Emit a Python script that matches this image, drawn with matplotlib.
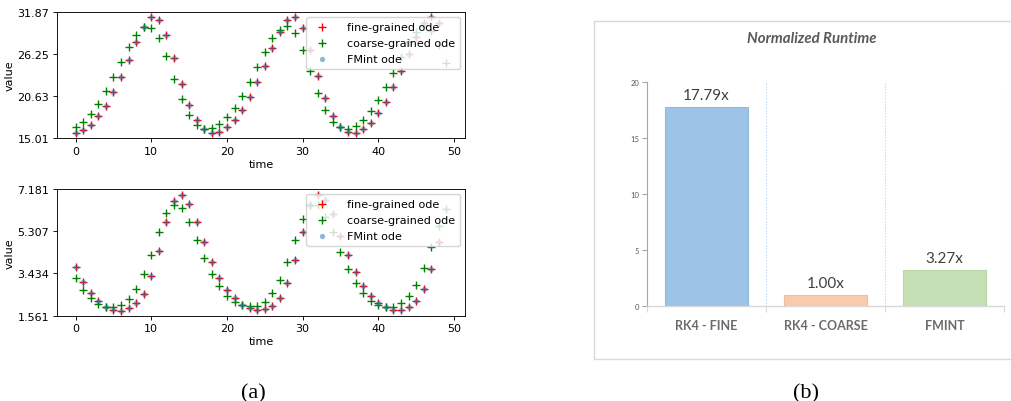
import numpy as np
import matplotlib
matplotlib.use("Agg")
import matplotlib.pyplot as plt
from matplotlib.patches import Rectangle

# ---------------- data ----------------
t_fine = list(range(49))
t_coarse = list(range(50))

top_fine = [15.72, 16.07, 16.78, 17.94, 19.36, 21.13, 23.22, 25.48, 27.79, 29.79,
            31.12, 30.81, 28.81, 25.66, 22.24, 19.45, 17.45, 16.25, 15.72, 15.90,
            16.56, 17.49, 18.83, 20.47, 22.55, 24.68, 27.03, 29.21, 30.81, 31.21,
            29.65, 26.81, 23.35, 20.33, 18.03, 16.56, 15.90, 15.72, 16.25, 17.05,
            18.34, 19.89, 21.80, 23.93, 26.24, 28.55, 30.35, 31.21, 30.36]
top_coarse = [16.47, 17.14, 18.20, 19.58, 21.31, 23.17, 25.22, 27.12, 28.81, 29.79,
              29.70, 28.37, 25.93, 22.91, 20.25, 18.16, 16.83, 16.25, 16.34, 16.87,
              17.81, 19.05, 20.69, 22.55, 24.46, 26.46, 28.32, 29.48, 29.92, 28.99,
              26.81, 23.93, 21.09, 18.83, 17.23, 16.47, 16.25, 16.61, 17.41, 18.60,
              20.11, 21.84, 23.75, 25.84, 27.80, 29.20, 29.90, 29.30, 27.50, 24.99]
top_fmint = top_fine

bot_fine = [3.70, 3.04, 2.57, 2.20, 1.96, 1.81, 1.78, 1.89, 2.11, 2.52,
            3.31, 4.45, 5.70, 6.63, 6.93, 6.52, 5.70, 4.82, 3.96, 3.23,
            2.71, 2.33, 2.03, 1.89, 1.81, 1.86, 2.00, 2.34, 2.99, 4.03,
            5.29, 6.45, 6.93, 6.70, 6.07, 5.11, 4.25, 3.48, 2.89, 2.45,
            2.12, 1.93, 1.81, 1.81, 1.96, 2.23, 2.74, 3.63, 4.84]
bot_coarse = [3.22, 2.70, 2.33, 2.08, 1.96, 1.96, 2.03, 2.30, 2.74, 3.41,
              4.25, 5.26, 6.10, 6.49, 6.34, 5.70, 4.92, 4.12, 3.41, 2.86,
              2.45, 2.18, 2.03, 1.98, 2.00, 2.18, 2.57, 3.16, 3.96, 4.92,
              5.85, 6.45, 6.45, 5.95, 5.26, 4.40, 3.63, 3.01, 2.55, 2.23,
              2.03, 1.93, 1.96, 2.12, 2.42, 2.92, 3.66, 4.59, 5.55, 6.29]
bot_fmint = bot_fine

top_yticks = [15.01, 20.63, 26.25, 31.87]
bot_yticks = [1.561, 3.434, 5.307, 7.181]
xticks = [0, 10, 20, 30, 40, 50]

series_labels = ["fine-grained ode", "coarse-grained ode", "FMint ode"]

categories = ["RK4 - FINE", "RK4 - COARSE", "FMINT"]
runtimes = [17.79, 1.00, 3.27]
runtime_labels = ["17.79x", "1.00x", "3.27x"]
bar_yticks = [0, 5, 10, 15, 20]
bar_title = "Normalized Runtime"

# ---------------- figure ----------------
W, H = 1011, 402
fig = plt.figure(figsize=(W / 100, H / 100), dpi=100)
plt.rcParams['font.family'] = ['DejaVu Sans']


def px_axes(left, top, right, bottom):
    return [left / W, 1 - bottom / H, (right - left) / W, (bottom - top) / H]


def ode_panel(rect, fine, coarse, fmint, yticks):
    ax = fig.add_axes(rect)
    ax.scatter(t_fine, fine, marker='+', color='red', s=26, linewidths=1.0,
               label=series_labels[0])
    ax.scatter(t_coarse, coarse, marker='+', color='green', s=26, linewidths=1.0,
               label=series_labels[1])
    ax.scatter(t_fine, fmint, marker='o', color='#1f77b4', alpha=0.5, s=15,
               linewidths=0, label=series_labels[2])
    ax.set_ylim(yticks[0], yticks[-1])
    ax.set_yticks(yticks)
    ax.set_yticklabels([str(v) for v in yticks])
    ax.set_xticks(xticks)
    ax.tick_params(labelsize=8, length=2.8, width=0.64, pad=2.8)
    for sp in ax.spines.values():
        sp.set_linewidth(0.64)
    ax.set_xlabel("time", fontsize=8, labelpad=2)
    ax.set_ylabel("value", fontsize=8, labelpad=2)
    ax.legend(loc='upper right', fontsize=8, borderaxespad=0.45,
              handletextpad=1.2, labelspacing=0.55, borderpad=0.45)
    return ax


ode_panel(px_axes(57, 12.7, 465, 139.3), top_fine, top_coarse, top_fmint, top_yticks)
ode_panel(px_axes(57, 190, 465, 316.7), bot_fine, bot_coarse, bot_fmint, bot_yticks)

# ---------------- bar chart (b) ----------------
xfont = ['Lato', 'DejaVu Sans']
axb = fig.add_axes(px_axes(646.7, 83.3, 1004.3, 307.3))
xpos = np.arange(len(categories))
colors = ['#9dc3e6', '#f8cbad', '#c5e0b4']
edges = ['#93b9dc', '#edbfa0', '#bad6a8']
axb.bar(xpos, runtimes, width=0.7, color=colors, edgecolor=edges, linewidth=0.8, zorder=3)
axb.set_xlim(-0.5, len(categories) - 0.5)
axb.set_ylim(bar_yticks[0], bar_yticks[-1])
for b in xpos + 0.5:
    axb.axvline(b, color='#bdd7ee', linestyle=(0, (1.2, 1.5)), linewidth=0.8, zorder=1)
for sp in ['top', 'right']:
    axb.spines[sp].set_visible(False)
axb.spines['left'].set_color('#a6a6a6')
axb.spines['left'].set_linewidth(0.8)
axb.spines['bottom'].set_color('#d9d9d9')
axb.spines['bottom'].set_linewidth(1.0)
axb.set_yticks(bar_yticks)
axb.set_yticklabels([str(v) for v in bar_yticks], fontsize=5.5, color='#595959',
                    family=xfont)
axb.tick_params(axis='y', length=3.5, width=0.8, color='#a6a6a6', pad=2)
axb.set_xticks(xpos)
axb.set_xticklabels(categories, fontsize=9, fontweight='bold', color='#6b6b6b',
                    family=xfont)
axb.set_xticks(np.append(xpos - 0.5, xpos[-1] + 0.5), minor=True)
axb.tick_params(axis='x', which='major', length=0, pad=9)
axb.tick_params(axis='x', which='minor', length=4, width=0.8, color='#d9d9d9')
for xi, v, lab in zip(xpos, runtimes, runtime_labels):
    axb.annotate(lab, (xi, v), xytext=(0, 5.5), textcoords='offset points',
                 ha='center', va='baseline', fontsize=11, color='#404040',
                 family=xfont)

fig.text(811.7 / W, 1 - 39.3 / H, bar_title, ha='center', va='center',
         fontsize=10.8, fontweight='bold', fontstyle='italic', color='#595959',
         family=xfont)
fig.patches.append(Rectangle((594 / W, 1 - 360 / H), (1030 - 594) / W, (360 - 22.3) / H,
                             transform=fig.transFigure, fill=False,
                             edgecolor='#d9d9d9', linewidth=1.0))

# ---------------- captions ----------------
serif = ['Liberation Serif', 'DejaVu Serif']
fig.text(253.7 / W, 4 / H, "(a)", ha='center', va='baseline', fontsize=16, family=serif)
fig.text(806 / W, 4 / H, "(b)", ha='center', va='baseline', fontsize=16, family=serif)

fig.savefig("out.png", dpi=100)
